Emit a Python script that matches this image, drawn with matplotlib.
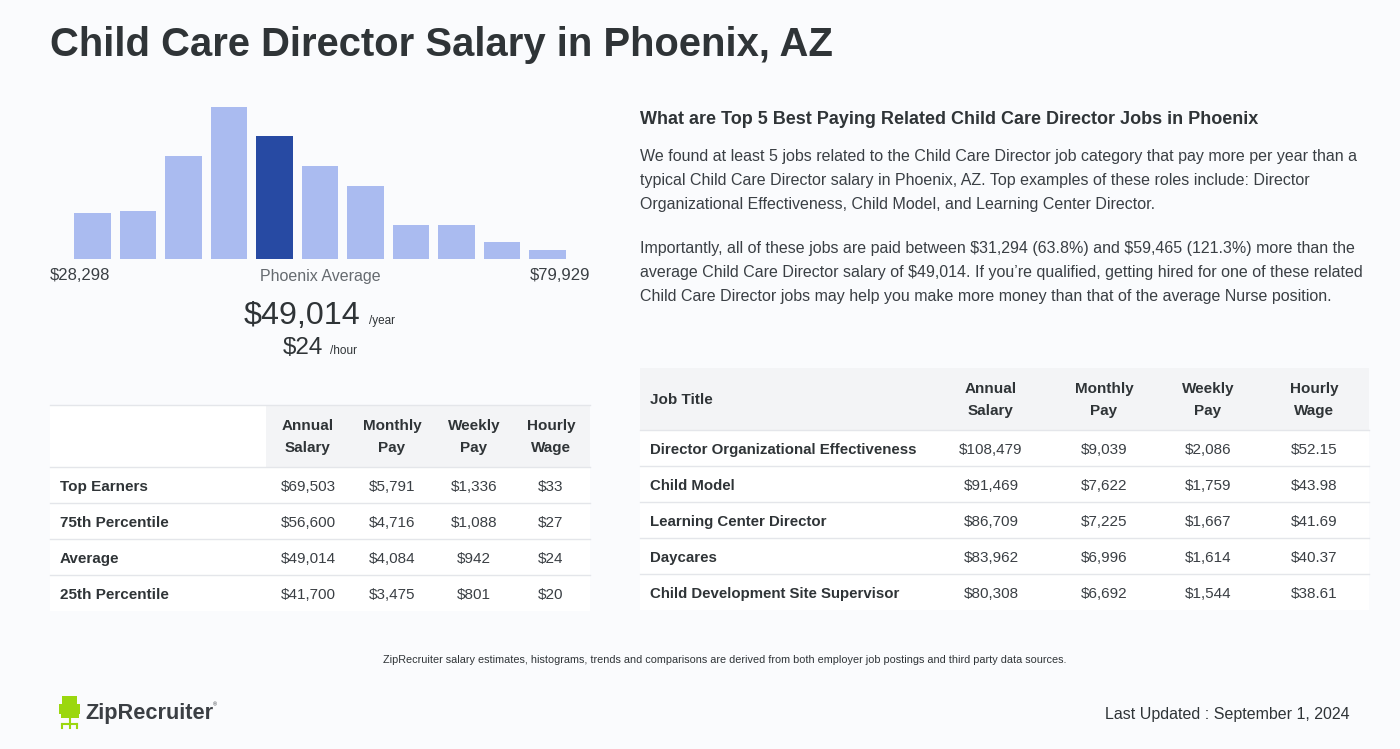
import numpy as np
import matplotlib.pyplot as plt
from matplotlib.patches import Rectangle

plt.rcParams['font.family'] = ['Liberation Sans', 'DejaVu Sans']
plt.rcParams['text.parse_math'] = False

# histogram of salaries (relative bar heights)
hist_heights = [46, 48, 103, 152, 123, 93, 73, 34, 34, 17, 9]
highlight_bar = 4
low_label = '$28,298'
high_label = '$79,929'
avg_year = '$49,014'
avg_hour = '$24'

# left table
left_cols = ['Annual\nSalary', 'Monthly\nPay', 'Weekly\nPay', 'Hourly\nWage']
left_rows = ['Top Earners', '75th Percentile', 'Average', '25th Percentile']
left_annual = ['$69,503', '$56,600', '$49,014', '$41,700']
left_monthly = ['$5,791', '$4,716', '$4,084', '$3,475']
left_weekly = ['$1,336', '$1,088', '$942', '$801']
left_hourly = ['$33', '$27', '$24', '$20']

# right table
right_cols = ['Annual\nSalary', 'Monthly\nPay', 'Weekly\nPay', 'Hourly\nWage']
jobs = ['Director Organizational Effectiveness', 'Child Model', 'Learning Center Director',
        'Daycares', 'Child Development Site Supervisor']
job_annual = ['$108,479', '$91,469', '$86,709', '$83,962', '$80,308']
job_monthly = ['$9,039', '$7,622', '$7,225', '$6,996', '$6,692']
job_weekly = ['$2,086', '$1,759', '$1,667', '$1,614', '$1,544']
job_hourly = ['$52.15', '$43.98', '$41.69', '$40.37', '$38.61']

heading = 'What are Top 5 Best Paying Related Child Care Director Jobs in Phoenix'
para1 = ['We found at least 5 jobs related to the Child Care Director job category that pay more per year than a',
         'typical Child Care Director salary in Phoenix, AZ. Top examples of these roles include: Director',
         'Organizational Effectiveness, Child Model, and Learning Center Director.']
para2 = ['Importantly, all of these jobs are paid between $31,294 (63.8%) and $59,465 (121.3%) more than the',
         "average Child Care Director salary of $49,014. If you\u2019re qualified, getting hired for one of these related",
         'Child Care Director jobs may help you make more money than that of the average Nurse position.']

BG = '#fafbfd'
DARK = '#2f3437'
TXT = '#3a3f44'
LINE = '#e4e6ea'
HEAD_BG = '#f3f4f6'

W, H = 1400, 749
fig = plt.figure(figsize=(W / 100, H / 100), dpi=100, facecolor=BG)

# overlay axes in pixel coordinates
ov = fig.add_axes([0, 0, 1, 1])
ov.set_xlim(0, W)
ov.set_ylim(H, 0)
ov.axis('off')

ov.text(50, 45, 'Child Care Director Salary in Phoenix, AZ', fontsize=28.8,
        fontweight='bold', color=DARK, va='center', ha='left')

# histogram
hx = fig.add_axes([50 / W, (H - 259) / H, 540 / W, 160 / H])
hx.set_facecolor('none')
colors = ['#aabbf0'] * len(hist_heights)
colors[highlight_bar] = '#274aa3'
x = np.arange(len(hist_heights))
hx.bar(x, hist_heights, width=0.813, color=colors)
hx.set_xlim(-0.934, len(hist_heights) - 1 + 0.934)
hx.set_ylim(0, 160)
hx.axis('off')

ov.text(50, 276, low_label, fontsize=12, color=TXT, ha='left', va='center')
ov.text(590, 276, high_label, fontsize=12, color=TXT, ha='right', va='center')
ov.text(320, 276, 'Phoenix Average', fontsize=11.5, color='#666b70', ha='center', va='center')
ov.text(360, 316, avg_year, fontsize=23.2, color=DARK, ha='right', va='center')
ov.text(369, 321, '/year', fontsize=8.5, color=DARK, ha='left', va='center')
ov.text(323, 348, avg_hour, fontsize=17.5, color=DARK, ha='right', va='center')
ov.text(330, 351, '/hour', fontsize=8.5, color=DARK, ha='left', va='center')

# left table
ov.add_patch(Rectangle((50, 405), 216, 62, color='white', lw=0))
ov.add_patch(Rectangle((266, 405), 324, 62, color=HEAD_BG, lw=0))
ov.plot([50, 590], [405, 405], color=LINE, lw=1)
left_cx = [308, 392, 474, 551]
for cx, c in zip(left_cx, left_cols):
    ov.text(cx, 437, c, fontsize=11, fontweight='bold', color=DARK, ha='center',
            va='center', linespacing=1.7)
left_vals = [left_annual, left_monthly, left_weekly, left_hourly]
for i, r in enumerate(left_rows):
    y0 = 467 + 36 * i
    ov.add_patch(Rectangle((50, y0), 540, 36, color='white', lw=0))
    ov.plot([50, 590], [y0, y0], color=LINE, lw=1)
    ov.text(60, y0 + 20, r, fontsize=11, fontweight='bold', color=DARK, ha='left', va='center')
    for cx, col in zip(left_cx, left_vals):
        ov.text(cx, y0 + 20, col[i], fontsize=11, color=TXT, ha='center', va='center')

# right text
ov.text(640, 119, heading, fontsize=13, fontweight='bold', color=DARK, ha='left', va='center')
for k, line in enumerate(para1):
    ov.text(640, 157 + 24 * k, line, fontsize=11.5, color=TXT, ha='left', va='center')
for k, line in enumerate(para2):
    ov.text(640, 249 + 24 * k, line, fontsize=11.5, color=TXT, ha='left', va='center')

# right table
ov.add_patch(Rectangle((640, 368), 729, 62, color=HEAD_BG, lw=0))
ov.text(650, 400, 'Job Title', fontsize=11, fontweight='bold', color=DARK, ha='left', va='center')
right_cx = [991, 1104, 1208, 1314]
for cx, c in zip(right_cx, right_cols):
    ov.text(cx, 400, c, fontsize=11, fontweight='bold', color=DARK, ha='center',
            va='center', linespacing=1.7)
right_vals = [job_annual, job_monthly, job_weekly, job_hourly]
for i, r in enumerate(jobs):
    y0 = 430 + 36 * i
    ov.add_patch(Rectangle((640, y0), 729, 36, color='white', lw=0))
    ov.plot([640, 1369], [y0, y0], color=LINE, lw=1)
    ov.text(650, y0 + 20, r, fontsize=10.8, fontweight='bold', color=DARK, ha='left', va='center')
    for cx, col in zip(right_cx, right_vals):
        ov.text(cx, y0 + 20, col[i], fontsize=11, color=TXT, ha='center', va='center')

# footer
ov.text(725, 660, 'ZipRecruiter salary estimates, histograms, trends and comparisons are derived '
        'from both employer job postings and third party data sources.',
        fontsize=7.85, color=DARK, ha='center', va='center')
ov.text(1350, 715, 'Last Updated : September 1, 2024', fontsize=11.5, color=DARK,
        ha='right', va='center')

# logo
green = '#9bd70f'
ov.add_patch(Rectangle((62, 696), 15, 18, color=green, lw=0))
ov.add_patch(Rectangle((59, 704), 3, 10, color=green, lw=0))
ov.add_patch(Rectangle((77, 704), 3, 10, color=green, lw=0))
ov.add_patch(Rectangle((61, 714), 18, 4, color=green, lw=0))
ov.plot([69.5, 69.5], [718, 728], color=green, lw=1.5)
ov.plot([62, 77], [724, 724], color=green, lw=1.5)
ov.plot([62, 62], [724, 728], color=green, lw=1.5)
ov.plot([77, 77], [724, 728], color=green, lw=1.5)
ov.text(85, 713, 'ZipRecruiter', fontsize=15.7, fontweight='bold', color='#3b3f44',
        ha='left', va='center')
ov.text(213, 705, '\u00ae', fontsize=4, color='#3b3f44', ha='left', va='center')

fig.savefig('out.png', dpi=100, facecolor=BG)
